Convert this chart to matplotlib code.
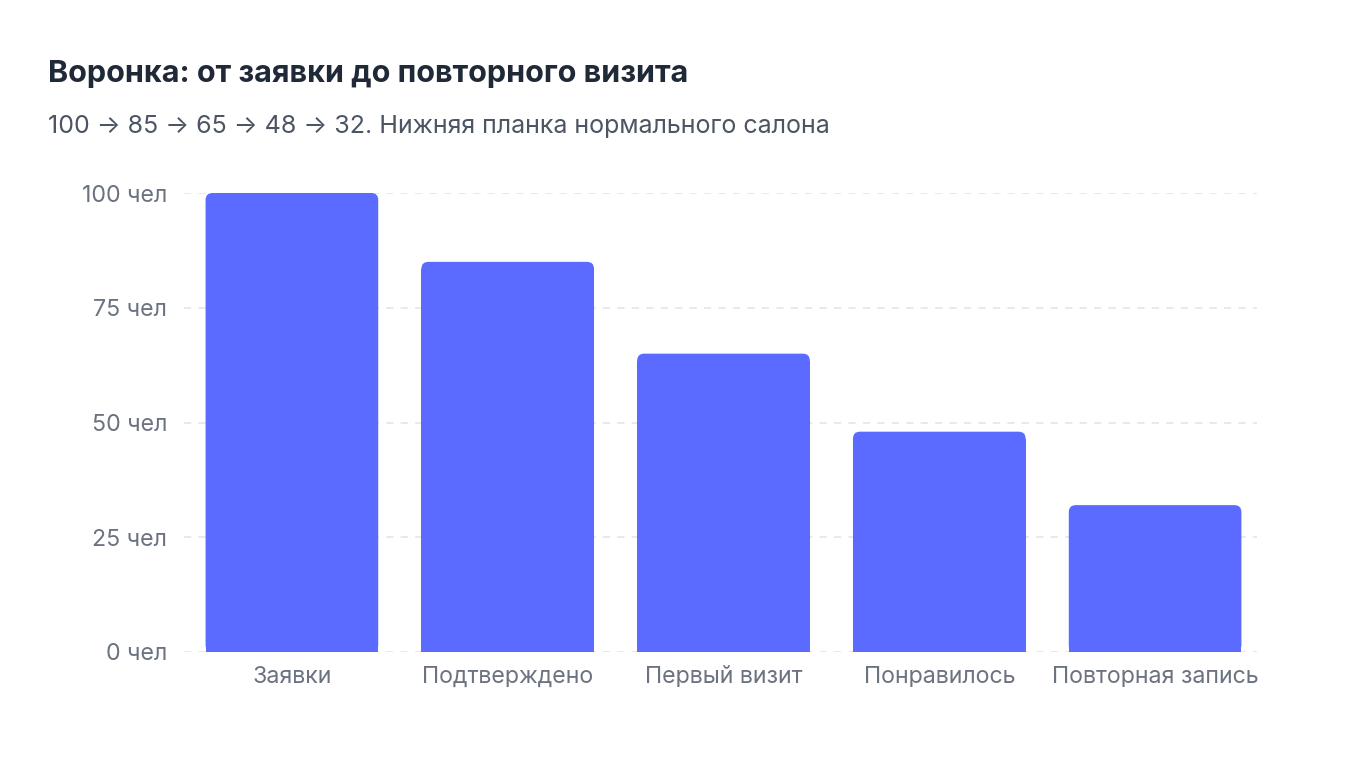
import matplotlib
matplotlib.use('Agg')
import matplotlib.pyplot as plt
from matplotlib.patches import FancyBboxPatch, Rectangle

# Data
stages = ['Заявки', 'Подтверждено', 'Первый визит', 'Понравилось', 'Повторная запись']
people = [100, 85, 65, 48, 32]
yticks = [0, 25, 50, 75, 100]
ytick_labels = [f'{v} чел' for v in yticks]

title = 'Воронка: от заявки до повторного визита'
subtitle = '100 → 85 → 65 → 48 → 32. Нижняя планка нормального салона'

bar_color = '#5B6BFF'
grid_color = '#E5E7EB'
tick_color = '#6B7280'

plt.rcParams['font.family'] = ['Inter', 'DejaVu Sans']

fig = plt.figure(figsize=(13.6, 7.6), dpi=100)
ax_box = [184 / 1360, 108 / 760, 1079 / 1360, 459 / 760]
ax = fig.add_axes(ax_box)

ax.set_xlim(-0.5, len(stages) - 0.5)
ax.set_ylim(0, 100)

# rounded top corners: radius in x units, aspect converts to y units
bar_w = 0.8
x_per_px = len(stages) / (ax_box[2] * 1360)
y_per_px = 100 / (ax_box[3] * 760)
aspect = y_per_px / x_per_px
rad = 7 * x_per_px

for i, v in enumerate(people):
    x0 = i - bar_w / 2
    ax.add_patch(FancyBboxPatch((x0, 0), bar_w, v,
                                boxstyle=f'round,pad=0,rounding_size={rad}',
                                mutation_aspect=aspect, fc=bar_color, ec='none', zorder=3))
    ax.add_patch(Rectangle((x0, 0), bar_w, v - rad * aspect,
                           fc=bar_color, ec='none', zorder=3))

for y in yticks:
    ax.axhline(y, xmin=0, xmax=0.9944, color=grid_color, lw=1.3, ls=(0, (4, 4)), zorder=1)

ax.set_xticks(range(len(stages)))
ax.set_xticklabels(stages)
ax.set_yticks(yticks)
ax.set_yticklabels(ytick_labels)
ax.tick_params(axis='both', length=0, labelsize=16.7, labelcolor=tick_color)
ax.tick_params(axis='y', pad=12)
ax.tick_params(axis='x', pad=10)
for s in ax.spines.values():
    s.set_visible(False)

fig.text(48 / 1360, 1 - 74 / 760, title, fontsize=22, fontweight='bold',
         color='#1F2937', va='center', ha='left')
fig.text(48 / 1360, 1 - 126 / 760, subtitle, fontsize=18, color='#4B5563',
         va='center', ha='left')

fig.savefig('out.png', dpi=100, facecolor='white')
